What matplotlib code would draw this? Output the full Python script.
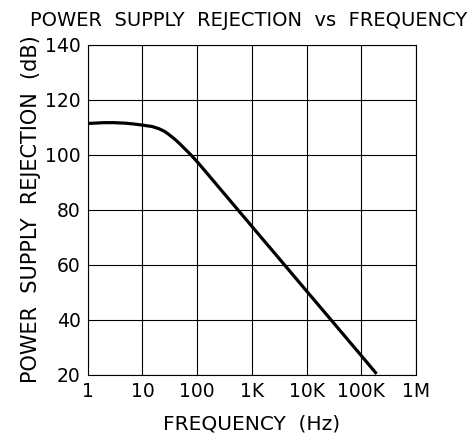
import matplotlib
matplotlib.use("Agg")
import matplotlib.pyplot as plt

# values
freq_hz = [1, 2, 3, 5, 7, 10, 15, 20, 25, 30, 40, 50, 60, 70, 80, 90, 100,
           150, 300, 1000, 3000, 10000, 30000, 100000, 190000]
psr_db = [111.3, 111.6, 111.6, 111.4, 111.1, 110.7, 110.2, 109.4, 108.5, 107.4, 105.4,
          103.6, 102.0, 100.7, 99.5, 98.4, 97.4, 93.3, 86.2, 73.9, 62.7, 50.4,
          39.2, 26.9, 20.3]

x_ticks = [1, 10, 100, 1e3, 1e4, 1e5, 1e6]
x_labels = ["1", "10", "100", "1K", "10K", "100K", "1M"]
y_ticks = [20, 40, 60, 80, 100, 120, 140]

fig = plt.figure(figsize=(4.77, 4.42), dpi=100)
ax = fig.add_axes([0.1839, 0.1523, 0.6883, 0.747])

ax.plot(freq_hz, psr_db, color="black", linewidth=2.3, solid_capstyle="butt",
        solid_joinstyle="round")

ax.set_xscale("log")
ax.set_xlim(1, 1e6)
ax.set_ylim(20, 140)
ax.set_xticks(x_ticks)
ax.set_xticklabels(x_labels)
ax.minorticks_off()
ax.set_yticks(y_ticks)
ax.tick_params(length=0, labelsize=13.5, pad=5)
ax.grid(True, color="black", linewidth=0.8)
for s in ax.spines.values():
    s.set_linewidth(0.8)

ax.set_xlabel("FREQUENCY  (Hz)", fontsize=14.5, labelpad=10)
ax.set_ylabel("POWER  SUPPLY  REJECTION  (dB)", fontsize=15, labelpad=3)
ax.set_title("POWER  SUPPLY  REJECTION  vs  FREQUENCY", fontsize=14, pad=13, x=0.49)

fig.savefig("out.png", dpi=100)
